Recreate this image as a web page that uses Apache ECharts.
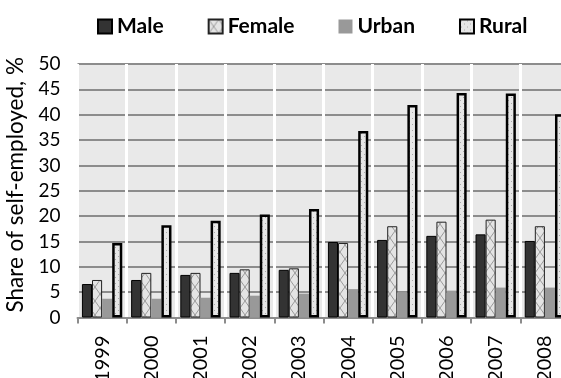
<!DOCTYPE html>
<html><head><meta charset="utf-8">
<script src="https://cdn.jsdelivr.net/npm/echarts@6/dist/echarts.min.js"></script>
<style>html,body{margin:0;padding:0;background:#fff}#c{width:561px;height:378px}</style>
</head><body><div id="c"></div>
<script>
const years = ['1999','2000','2001','2002','2003','2004','2005','2006','2007','2008'];
const male   = [6.6, 7.4, 8.4, 8.8, 9.4, 14.9, 15.3, 16.1, 16.4, 15.1];
const female = [7.4, 8.8, 8.8, 9.5, 9.7, 14.7, 18.0, 18.9, 19.3, 18.0];
const urban  = [3.7, 3.7, 3.9, 4.3, 4.7, 5.6, 5.0, 5.3, 5.9, 5.9];
const rural  = [14.7, 18.2, 19.1, 20.3, 21.4, 36.8, 41.9, 44.3, 44.2, 40.1];
const yTicks = {min: 0, max: 50, interval: 5};

function crossPattern(){
  const c = document.createElement('canvas'); c.width = 10; c.height = 14;
  const g = c.getContext('2d');
  g.fillStyle = '#e4e4e4'; g.fillRect(0,0,10,14);
  g.strokeStyle = '#9a9a9a'; g.lineWidth = 1;
  g.beginPath(); g.moveTo(0,0); g.lineTo(10,14); g.moveTo(10,0); g.lineTo(0,14); g.stroke();
  return c;
}
function dotPattern(){
  const c = document.createElement('canvas'); c.width = 6; c.height = 6;
  const g = c.getContext('2d');
  g.fillStyle = '#e6e6e6'; g.fillRect(0,0,6,6);
  g.fillStyle = '#a8a8a8';
  g.fillRect(1,1,1,1); g.fillRect(4,4,1,1);
  return c;
}
const FONT = 'Lato';
const chart = echarts.init(document.getElementById('c'), null, {renderer:'canvas'});
chart.setOption({
  animation: false,
  textStyle: {fontFamily: FONT},
  legend: {
    left: 92, top: 11, itemWidth: 14, itemHeight: 14, itemGap: 44, icon: 'rect',
    textStyle: {fontFamily: FONT, fontWeight: 'bold', fontSize: 21, color: '#000'}
  },
  grid: {left: 77.5, top: 64, right: -8.5, bottom: 60.5, outerBoundsMode: 'none',
         show: true, backgroundColor: '#e9e9e9', borderWidth: 0},
  xAxis: {
    type: 'category', data: years, z: 1,
    axisLine: {lineStyle: {color: '#8c8c8c', width: 2}},
    axisTick: {show: true, length: 6, lineStyle: {color: '#8c8c8c', width: 2}},
    splitLine: {show: true, lineStyle: {color: '#ffffff', width: 3}},
    axisLabel: {rotate: 90, margin: 18, fontSize: 20, color: '#000', fontFamily: FONT}
  },
  yAxis: {
    type: 'value', min: yTicks.min, max: yTicks.max, interval: yTicks.interval, z: 0,
    name: 'Share of self-employed, %', nameLocation: 'middle', nameGap: 42,
    nameTextStyle: {fontSize: 22.5, color: '#000', fontFamily: FONT, padding: [0, 0, 0, 12]},
    axisLine: {show: false}, axisTick: {show: false},
    splitLine: {lineStyle: {color: '#8c8c8c', width: 2}},
    axisLabel: {fontSize: 19, color: '#000', margin: 17, fontFamily: FONT}
  },
  series: [
    {name: 'Male', type: 'bar', data: male, barGap: '0%', barCategoryGap: '18%',
     itemStyle: {color: '#333333', borderColor: '#000', borderWidth: 1}},
    {name: 'Female', type: 'bar', data: female,
     itemStyle: {color: {image: crossPattern(), repeat: 'repeat'}, borderColor: '#222', borderWidth: 1}},
    {name: 'Urban', type: 'bar', data: urban,
     itemStyle: {color: '#999999', borderWidth: 0}},
    {name: 'Rural', type: 'bar', data: rural,
     itemStyle: {color: {image: dotPattern(), repeat: 'repeat'}, borderColor: '#000', borderWidth: 2.5}}
  ]
});
</script></body></html>
